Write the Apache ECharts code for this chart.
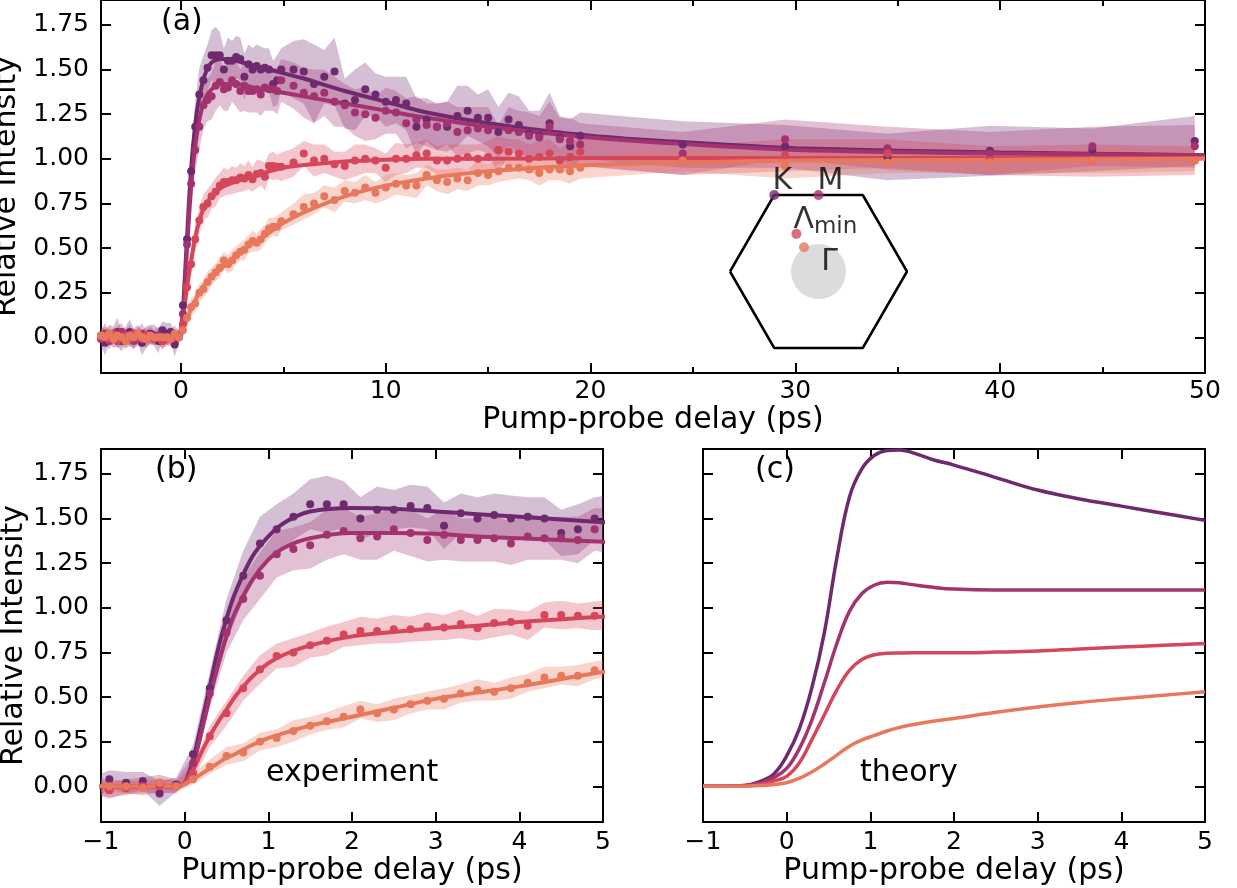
<!DOCTYPE html>
<html>
<head>
<meta charset="utf-8">
<script src="https://cdn.jsdelivr.net/npm/echarts@6/dist/echarts.min.js"></script>
<style>
  html, body { margin: 0; padding: 0; background: #fff; }
  #chart { width: 1237px; height: 888px; }
</style>
</head>
<body>
<div id="chart"></div>
<script>
// pump-probe delays (ps) of the measured points
const DELAY = [
  -3.9, -3.7, -3.5, -3.3, -3.1, -2.9, -2.7, -2.5, -2.3, -2.1, -1.9, -1.7, -1.5, -1.3, -1.1,
  -0.9, -0.7, -0.5, -0.3, -0.1,
  0.1, 0.3, 0.5, 0.7, 0.9, 1.1, 1.3, 1.5, 1.7, 1.9, 2.1, 2.3, 2.5, 2.7, 2.9, 3.1, 3.3, 3.5, 3.7, 3.9, 4.1, 4.3, 4.5, 4.7, 4.9,
  5.5, 6, 6.5, 7, 7.5, 8, 8.5, 9, 9.5, 10, 10.5, 11, 11.5, 12, 12.5, 13, 13.5, 14, 14.5, 15, 15.5, 16, 16.5, 17, 17.5, 18, 18.5, 19, 19.5,
  24.5, 29.5, 34.5, 39.5, 44.5, 49.5
];

const K_VAL = [
  0.01, -0.03, 0.02, 0.00, 0.03, -0.02, 0.01, 0.03, -0.01, 0.02, -0.03, 0.00, 0.02, 0.01, -0.02,
  0.04, 0.02, 0.03, -0.04, 0.01,
  0.18, 0.55, 0.93, 1.18, 1.36, 1.44, 1.51, 1.58, 1.58, 1.58, 1.50, 1.55, 1.55, 1.57, 1.56, 1.46, 1.53, 1.50, 1.52, 1.50, 1.51, 1.50, 1.42, 1.44, 1.50,
  1.50, 1.49, 1.42, 1.46, 1.49, 1.31, 1.33, 1.39, 1.36, 1.32, 1.33, 1.31, 1.18, 1.22, 1.18, 1.18, 1.24, 1.27, 1.23, 1.23, 1.15, 1.22, 1.19, 1.14, 1.13, 1.20, 1.12, 1.07, 1.13,
  1.08, 1.07, 1.01, 1.045, 1.05, 1.10
];
const M_VAL = [
  -0.01, 0.02, -0.02, 0.01, 0.00, 0.03, -0.01, 0.01, -0.02, 0.00, 0.02, -0.01, 0.01, 0.00, 0.01,
  -0.02, 0.00, 0.00, 0.015, 0.00,
  0.13, 0.52, 0.86, 1.05, 1.18, 1.30, 1.33, 1.35, 1.41, 1.43, 1.39, 1.40, 1.44, 1.42, 1.38, 1.41, 1.38, 1.38, 1.39, 1.36, 1.40, 1.39, 1.39, 1.38, 1.44,
  1.41, 1.37, 1.35, 1.37, 1.32, 1.30, 1.26, 1.25, 1.23, 1.27, 1.26, 1.20, 1.22, 1.19, 1.18, 1.20, 1.15, 1.16, 1.17, 1.16, 1.05, 1.16, 1.15, 1.13, 1.12, 1.18, 1.11, 1.10, 1.08,
  1.03, 1.11, 1.06, 1.03, 1.07, 1.07
];
const L_VAL = [
  0.00, 0.01, -0.01, 0.02, -0.02, 0.00, 0.01, -0.01, 0.02, 0.00, -0.01, 0.01, 0.00, -0.01, 0.00,
  -0.02, -0.01, 0.00, 0.00, 0.00,
  0.075, 0.28, 0.41, 0.55, 0.655, 0.73, 0.75, 0.79, 0.815, 0.85, 0.87, 0.87, 0.88, 0.88, 0.895, 0.89, 0.91, 0.885, 0.915, 0.92, 0.90, 0.96, 0.96, 0.955, 0.955,
  0.98, 1.03, 0.99, 1.00, 0.97, 0.96, 0.99, 1.00, 0.99, 0.95, 1.00, 1.00, 1.02, 1.03, 0.99, 0.99, 1.00, 1.01, 1.00, 1.01, 1.05, 1.04, 1.03, 1.00, 1.01, 1.03, 0.99, 1.01, 1.04,
  0.99, 1.02, 1.03, 0.99, 0.99, 0.99
];
const G_VAL = [
  0.01, 0.00, 0.02, -0.01, 0.01, 0.00, -0.02, 0.01, 0.00, 0.02, 0.00, -0.01, 0.01, 0.00, 0.00,
  0.00, 0.00, -0.01, 0.02, 0.00,
  0.04, 0.11, 0.17, 0.19, 0.25, 0.27, 0.31, 0.34, 0.365, 0.39, 0.43, 0.41, 0.43, 0.46, 0.48, 0.49, 0.52, 0.54, 0.53, 0.55, 0.58, 0.61, 0.62, 0.62, 0.65,
  0.69, 0.73, 0.75, 0.79, 0.77, 0.82, 0.81, 0.84, 0.81, 0.84, 0.86, 0.85, 0.85, 0.91, 0.88, 0.87, 0.89, 0.88, 0.92, 0.91, 0.93, 0.95, 0.95, 0.94, 0.92, 0.94, 0.94, 0.93, 0.95,
  0.99, 0.96, 0.98, 0.98, 0.99, 0.99
];

// half widths of the shaded error bands
const K_ERR = [
  0.06, 0.07, 0.05, 0.06, 0.08, 0.06, 0.05, 0.07, 0.06, 0.05, 0.07, 0.06, 0.05, 0.06, 0.07,
  0.05, 0.06, 0.05, 0.07, 0.04,
  0.05, 0.09, 0.12, 0.14, 0.15, 0.14, 0.13, 0.14, 0.16, 0.13, 0.12, 0.13, 0.11, 0.12, 0.12, 0.13, 0.11, 0.12, 0.12, 0.13, 0.11, 0.12, 0.13, 0.14, 0.12,
  0.16, 0.18, 0.22, 0.15, 0.19, 0.14, 0.17, 0.15, 0.12, 0.14, 0.13, 0.15, 0.16, 0.12, 0.13, 0.14, 0.17, 0.14, 0.13, 0.16, 0.14, 0.15, 0.16, 0.13, 0.14, 0.17, 0.12, 0.15, 0.13,
  0.13, 0.12, 0.13, 0.14, 0.12, 0.14
];
const M_ERR = [
  0.05, 0.06, 0.05, 0.04, 0.06, 0.05, 0.05, 0.06, 0.04, 0.05, 0.06, 0.05, 0.05, 0.04, 0.05,
  0.05, 0.04, 0.05, 0.05, 0.04,
  0.04, 0.08, 0.11, 0.12, 0.13, 0.13, 0.12, 0.13, 0.14, 0.13, 0.12, 0.13, 0.12, 0.13, 0.12, 0.14, 0.12, 0.12, 0.13, 0.12, 0.13, 0.12, 0.12, 0.13, 0.12,
  0.13, 0.14, 0.15, 0.13, 0.14, 0.12, 0.13, 0.15, 0.12, 0.13, 0.12, 0.14, 0.13, 0.12, 0.13, 0.12, 0.14, 0.13, 0.12, 0.13, 0.14, 0.13, 0.12, 0.13, 0.12, 0.14, 0.12, 0.13, 0.12,
  0.12, 0.11, 0.12, 0.12, 0.11, 0.12
];
const L_ERR = [
  0.04, 0.05, 0.04, 0.03, 0.04, 0.05, 0.04, 0.04, 0.03, 0.04, 0.05, 0.04, 0.04, 0.03, 0.04,
  0.04, 0.04, 0.03, 0.04, 0.03,
  0.04, 0.06, 0.07, 0.07, 0.08, 0.07, 0.08, 0.07, 0.08, 0.07, 0.08, 0.07, 0.08, 0.07, 0.08, 0.07, 0.08, 0.07, 0.08, 0.07, 0.08, 0.07, 0.08, 0.07, 0.08,
  0.08, 0.07, 0.09, 0.08, 0.07, 0.08, 0.09, 0.08, 0.07, 0.08, 0.09, 0.08, 0.07, 0.08, 0.08, 0.09, 0.08, 0.07, 0.08, 0.09, 0.08, 0.07, 0.08, 0.08, 0.09, 0.08, 0.07, 0.08, 0.08,
  0.08, 0.09, 0.08, 0.08, 0.09, 0.08
];
const G_ERR = [
  0.04, 0.03, 0.04, 0.04, 0.03, 0.04, 0.05, 0.04, 0.03, 0.04, 0.04, 0.03, 0.04, 0.04, 0.03,
  0.03, 0.04, 0.03, 0.03, 0.03,
  0.03, 0.04, 0.05, 0.05, 0.05, 0.05, 0.06, 0.05, 0.05, 0.06, 0.05, 0.05, 0.06, 0.05, 0.05, 0.06, 0.05, 0.06, 0.05, 0.06, 0.05, 0.06, 0.05, 0.06, 0.05,
  0.06, 0.07, 0.06, 0.06, 0.07, 0.06, 0.06, 0.07, 0.06, 0.07, 0.06, 0.06, 0.07, 0.06, 0.06, 0.07, 0.06, 0.06, 0.07, 0.06, 0.06, 0.07, 0.06, 0.06, 0.07, 0.06, 0.06, 0.07, 0.06,
  0.06, 0.07, 0.06, 0.06, 0.07, 0.06
];

// fitted curves
const FIT_T = [-4, -0.1, 0, 0.1, 0.2, 0.3, 0.4, 0.5, 0.6, 0.8, 1, 1.2, 1.5, 2, 2.5, 3, 3.5, 4, 5, 6, 8, 10, 12, 15, 20, 25, 30, 40, 50];
const K_FIT = [0, 0, 0.02, 0.15, 0.35, 0.56, 0.77, 0.94, 1.08, 1.28, 1.40, 1.48, 1.54, 1.56, 1.555, 1.54, 1.525, 1.51, 1.48, 1.45, 1.38, 1.32, 1.26, 1.20, 1.13, 1.09, 1.06, 1.035, 1.02];
const M_FIT = [0, 0, 0.02, 0.12, 0.30, 0.50, 0.68, 0.84, 0.97, 1.15, 1.27, 1.34, 1.39, 1.42, 1.42, 1.415, 1.40, 1.39, 1.37, 1.35, 1.31, 1.27, 1.23, 1.18, 1.12, 1.08, 1.05, 1.03, 1.02];
const L_FIT = [0, 0, 0.02, 0.09, 0.19, 0.28, 0.36, 0.43, 0.50, 0.61, 0.69, 0.74, 0.79, 0.84, 0.865, 0.885, 0.90, 0.92, 0.95, 0.965, 0.985, 0.995, 1.0, 1.0, 1.005, 1.005, 1.005, 1.005, 1.005];
const G_FIT = [0, 0, 0.01, 0.04, 0.07, 0.10, 0.13, 0.16, 0.18, 0.23, 0.27, 0.30, 0.34, 0.39, 0.44, 0.49, 0.525, 0.56, 0.64, 0.70, 0.79, 0.85, 0.89, 0.93, 0.965, 0.98, 0.99, 0.995, 1.0];

// theory curves, panel (c)
const THEORY_T = [-1, -0.5, -0.3, -0.15, 0, 0.15, 0.3, 0.45, 0.6, 0.75, 0.9, 1.05, 1.2, 1.35, 1.5, 1.75, 2, 2.5, 3, 3.5, 4, 4.5, 5];
const K_TH = [0, 0.005, 0.03, 0.07, 0.17, 0.32, 0.55, 0.86, 1.28, 1.62, 1.78, 1.855, 1.882, 1.885, 1.87, 1.83, 1.80, 1.73, 1.66, 1.61, 1.57, 1.53, 1.49];
const M_TH = [0, 0.005, 0.02, 0.05, 0.10, 0.21, 0.37, 0.58, 0.80, 0.98, 1.08, 1.128, 1.143, 1.14, 1.13, 1.115, 1.105, 1.10, 1.10, 1.10, 1.10, 1.10, 1.10];
const L_TH = [0, 0.003, 0.01, 0.03, 0.056, 0.13, 0.26, 0.40, 0.54, 0.65, 0.71, 0.737, 0.745, 0.747, 0.748, 0.748, 0.748, 0.752, 0.758, 0.77, 0.78, 0.79, 0.80];
const G_TH = [0, 0.001, 0.004, 0.01, 0.02, 0.045, 0.08, 0.125, 0.175, 0.225, 0.26, 0.285, 0.31, 0.33, 0.345, 0.365, 0.38, 0.415, 0.445, 0.47, 0.49, 0.51, 0.53];

const Y_TICKS = [0, 0.25, 0.5, 0.75, 1, 1.25, 1.5, 1.75];
const X_TICKS_A = [0, 10, 20, 30, 40, 50];
const X_MINOR_A = [5, 15, 25, 35, 45];

// Brillouin-zone inset (unit hexagon) and the four k points
const BZ_HEX = [[-1, 0], [-0.5, 0.866], [0.5, 0.866], [1, 0], [0.5, -0.866], [-0.5, -0.866], [-1, 0]];
const BZ_K = [-0.5, 0.866];
const BZ_M = [0, 0.866];
const BZ_LAMBDA = [-0.25, 0.426];
const BZ_GAMMA_DOT = [-0.164, 0.275];

const COLORS = ['#6f2a6f', '#a3336f', '#d6465b', '#e8785c'];
const SETS = [
  { val: K_VAL, err: K_ERR, fit: K_FIT, th: K_TH },
  { val: M_VAL, err: M_ERR, fit: M_FIT, th: M_TH },
  { val: L_VAL, err: L_ERR, fit: L_FIT, th: L_TH },
  { val: G_VAL, err: G_ERR, fit: G_FIT, th: G_TH }
];

const FONT = 'DejaVu Sans';
const zip = (xs, ys) => xs.map((x, i) => [x, ys[i]]);
const minus = v => (v < 0 ? '\u2212' + Math.abs(v) : String(v));

function bandSeries(s, color, xi, yi) {
  return {
    type: 'custom', xAxisIndex: xi, yAxisIndex: yi, clip: true, z: 1, silent: true,
    data: [[0, 0]],
    renderItem: (params, api) => {
      const pts = [];
      for (let i = 0; i < DELAY.length; i++) pts.push(api.coord([DELAY[i], s.val[i] + s.err[i]]));
      for (let i = DELAY.length - 1; i >= 0; i--) pts.push(api.coord([DELAY[i], s.val[i] - s.err[i]]));
      return { type: 'polygon', shape: { points: pts }, style: { fill: color, opacity: 0.3 } };
    }
  };
}

const series = [];
[[0, 0], [4, 2]].forEach(([xi, yi]) => {
  SETS.forEach((s, k) => series.push(bandSeries(s, COLORS[k], xi, yi)));
  SETS.forEach((s, k) => series.push({
    type: 'line', xAxisIndex: xi, yAxisIndex: yi, data: zip(FIT_T, s.fit), smooth: 0.3,
    showSymbol: false, z: 2, lineStyle: { color: COLORS[k], width: 4 }
  }));
  SETS.forEach((s, k) => series.push({
    type: 'scatter', xAxisIndex: xi, yAxisIndex: yi, data: zip(DELAY, s.val), z: 3,
    symbolSize: 8, itemStyle: { color: COLORS[k], opacity: 1 }
  }));
});
SETS.forEach((s, k) => series.push({
  type: 'line', xAxisIndex: 6, yAxisIndex: 4, data: zip(THEORY_T, s.th), smooth: 0.4,
  showSymbol: false, z: 2, lineStyle: { color: COLORS[k], width: 3.5 }
}));

// inset
series.push({
  type: 'scatter', xAxisIndex: 8, yAxisIndex: 6, data: [[0, 0]], symbolSize: 55, z: 4,
  itemStyle: { color: '#d3d3d3' },
  label: { show: true, position: 'inside', formatter: '\u0393', offset: [11, -9], color: '#000', fontFamily: FONT, fontSize: 30 }
});
series.push({
  type: 'line', xAxisIndex: 8, yAxisIndex: 6, data: BZ_HEX, showSymbol: false, clip: false, z: 5,
  lineStyle: { color: '#000', width: 2.5 }
});
const insetLabel = (text, offset) => ({ show: true, position: 'inside', formatter: text, offset, color: '#000', fontFamily: FONT, fontSize: 30 });
series.push({
  type: 'scatter', xAxisIndex: 8, yAxisIndex: 6, symbolSize: 10, z: 6,
  data: [
    { value: BZ_K, itemStyle: { color: COLORS[0] }, label: insetLabel('K', [8, -14]) },
    { value: BZ_M, itemStyle: { color: COLORS[1] }, label: insetLabel('M', [12, -14]) },
    {
      value: BZ_LAMBDA, itemStyle: { color: COLORS[2] },
      label: {
        show: true, position: 'inside', offset: [29, -12], formatter: '{a|\u039b}{b|min}',
        rich: {
          a: { fontFamily: FONT, fontSize: 30, color: '#000', verticalAlign: 'bottom', padding: [0, 0, 4, 0] },
          b: { fontFamily: FONT, fontSize: 23, color: '#000', verticalAlign: 'bottom' }
        }
      }
    },
    { value: BZ_GAMMA_DOT, itemStyle: { color: COLORS[3] } }
  ]
});

const AXIS_LINE = { show: true, onZero: false, lineStyle: { color: '#000', width: 2 } };
const NO_LINE = { show: false, onZero: false };
const tick = (values, length) => ({ show: true, inside: true, length: length || 10, lineStyle: { color: '#000', width: 2 }, customValues: values });
const NAME_STYLE = { fontFamily: FONT, fontSize: 30, color: '#000' };
const LABEL_STYLE = { fontFamily: FONT, fontSize: 25, color: '#000' };

function xAxis(grid, pos, min, max, opt) {
  return Object.assign({
    type: 'value', gridIndex: grid, position: pos, min, max, splitLine: { show: false },
    axisLine: AXIS_LINE, axisLabel: { show: false }
  }, opt);
}
function yAxis(grid, pos, opt) {
  return Object.assign({
    type: 'value', gridIndex: grid, position: pos, min: -0.2, max: 1.89, splitLine: { show: false },
    axisLine: AXIS_LINE, axisLabel: { show: false }, axisTick: tick(Y_TICKS)
  }, opt);
}
const xName = gap => ({
  name: 'Pump-probe delay (ps)', nameLocation: 'middle', nameGap: gap, nameTextStyle: NAME_STYLE
});
const yNamed = {
  name: 'Relative Intensity', nameLocation: 'middle', nameGap: 66, nameRotate: 90, nameTextStyle: NAME_STYLE,
  axisLabel: Object.assign({ show: true, margin: 12, customValues: Y_TICKS, formatter: v => v.toFixed(2) }, LABEL_STYLE)
};
const bcX = {
  interval: 1, axisTick: tick(null),
  axisLabel: Object.assign({ show: true, margin: 8, formatter: minus }, LABEL_STYLE)
};
const GRID = { containLabel: false, outerBoundsMode: 'none' };

const option = {
  animation: false,
  backgroundColor: '#fff',
  grid: [
    Object.assign({ left: 101, top: 0, width: 1104, height: 373 }, GRID),
    Object.assign({ left: 101, top: 449, width: 502, height: 373 }, GRID),
    Object.assign({ left: 703, top: 449, width: 502, height: 373 }, GRID),
    Object.assign({ left: 730, top: 195, width: 177, height: 153 }, GRID)
  ],
  xAxis: [
    xAxis(0, 'bottom', -3.9, 50, Object.assign({
      axisTick: tick(X_TICKS_A),
      axisLabel: Object.assign({ show: true, margin: 6, customValues: X_TICKS_A }, LABEL_STYLE)
    }, xName(17))),
    xAxis(0, 'bottom', -3.9, 50, { axisLine: NO_LINE, axisTick: tick(X_MINOR_A, 6) }),
    xAxis(0, 'top', -3.9, 50, { axisTick: tick(X_TICKS_A) }),
    xAxis(0, 'top', -3.9, 50, { axisLine: NO_LINE, axisTick: tick(X_MINOR_A, 6) }),
    xAxis(1, 'bottom', -1, 5, Object.assign({}, bcX, xName(26))),
    xAxis(1, 'top', -1, 5, { interval: 1, axisTick: tick(null) }),
    xAxis(2, 'bottom', -1, 5, Object.assign({}, bcX, xName(26))),
    xAxis(2, 'top', -1, 5, { interval: 1, axisTick: tick(null) }),
    { type: 'value', gridIndex: 3, min: -1, max: 1, show: false }
  ],
  yAxis: [
    yAxis(0, 'left', yNamed),
    yAxis(0, 'right'),
    yAxis(1, 'left', yNamed),
    yAxis(1, 'right'),
    yAxis(2, 'left'),
    yAxis(2, 'right'),
    { type: 'value', gridIndex: 3, min: -0.866, max: 0.866, show: false }
  ],
  graphic: [
    { type: 'text', x: 161, y: 22, style: { text: '(a)', font: '30px "DejaVu Sans"', fill: '#000', verticalAlign: 'middle' } },
    { type: 'text', x: 155, y: 470, style: { text: '(b)', font: '30px "DejaVu Sans"', fill: '#000', verticalAlign: 'middle' } },
    { type: 'text', x: 755, y: 470, style: { text: '(c)', font: '30px "DejaVu Sans"', fill: '#000', verticalAlign: 'middle' } },
    { type: 'text', x: 266, y: 773, style: { text: 'experiment', font: '30px "DejaVu Sans"', fill: '#000', verticalAlign: 'middle' } },
    { type: 'text', x: 860, y: 773, style: { text: 'theory', font: '30px "DejaVu Sans"', fill: '#000', verticalAlign: 'middle' } }
  ],
  series
};

const chart = echarts.init(document.getElementById('chart'), null, { renderer: 'canvas' });
chart.setOption(option);
</script>
</body>
</html>
